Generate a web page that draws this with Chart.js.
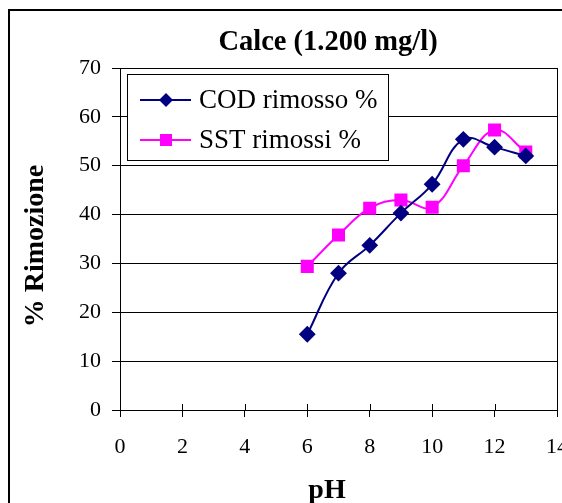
<!DOCTYPE html>
<html>
<head>
<meta charset="utf-8">
<script src="https://cdn.jsdelivr.net/npm/chart.js@4/dist/chart.umd.min.js"></script>
<style>
    html, body { margin: 0; padding: 0; background: #ffffff; overflow: hidden; }
    #wrap { width: 562px; height: 503px; position: relative; overflow: hidden; }
    #phChart { position: absolute; left: 0; top: 0; }
</style>
</head>
<body>
<div id="wrap"><canvas id="phChart" width="585" height="503"></canvas></div>
<script>
// pH values on the x axis
const phValues = [6, 7, 8, 9, 10, 11, 12, 13];
// series
const codRemoved = [15.5, 28.0, 33.7, 40.3, 46.2, 55.4, 53.8, 52.0];
const sstRemoved = [29.4, 35.8, 41.3, 43.0, 41.5, 50.0, 57.3, 52.8];
const seriesNames = ['COD rimosso %', 'SST rimossi %'];
const chartTitle = 'Calce (1.200 mg/l)';
const xTitle = 'pH';
const yTitle = '% Rimozione';
const xTicks = [0, 2, 4, 6, 8, 10, 12, 14];
const yTicks = [0, 10, 20, 30, 40, 50, 60, 70];

const serif = "'Liberation Serif', 'DejaVu Serif', serif";

function toPoints(ys) {
    return phValues.map((x, i) => ({ x: x, y: ys[i] }));
}

// frame, titles, legend box and the upper half of the x ticks
const decorPlugin = {
    id: 'decor',
    afterDraw(chart) {
        const ctx = chart.ctx;
        const area = chart.chartArea;
        const xs = chart.scales.x;
        ctx.save();

        // outer frame
        ctx.strokeStyle = '#000';
        ctx.lineWidth = 2;
        ctx.strokeRect(9, 10, 700, 700);

        // plot border
        ctx.lineWidth = 1;
        ctx.strokeRect(area.left + 0.5, area.top + 0.5, area.right - area.left, area.bottom - area.top);

        // x ticks above the axis
        xTicks.forEach(v => {
            const px = Math.round(xs.getPixelForValue(v)) + 0.5;
            ctx.beginPath();
            ctx.moveTo(px, area.bottom);
            ctx.lineTo(px, area.bottom - 6);
            ctx.stroke();
        });

        // titles
        ctx.fillStyle = '#000';
        ctx.textAlign = 'center';
        ctx.textBaseline = 'middle';
        ctx.font = 'bold 28.5px ' + serif;
        ctx.fillText(chartTitle, 328, 43);
        ctx.font = 'bold 28px ' + serif;
        ctx.fillText(xTitle, 327, 491);

        ctx.save();
        ctx.translate(36, 246);
        ctx.rotate(-Math.PI / 2);
        ctx.fillText(yTitle, 0, 0);
        ctx.restore();

        // legend
        const lx = 127, ly = 74, lw = 261, lh = 86;
        ctx.fillStyle = '#fff';
        ctx.fillRect(lx, ly, lw, lh);
        ctx.strokeStyle = '#000';
        ctx.lineWidth = 1;
        ctx.strokeRect(lx + 0.5, ly + 0.5, lw, lh);

        chart.data.datasets.forEach((ds, i) => {
            const cy = ly + 26 + i * 40;
            ctx.strokeStyle = ds.borderColor;
            ctx.lineWidth = 2;
            ctx.beginPath();
            ctx.moveTo(lx + 13, cy);
            ctx.lineTo(lx + 64, cy);
            ctx.stroke();
            ctx.fillStyle = ds.pointBackgroundColor;
            const mx = lx + 39;
            if (ds.pointStyle === 'rectRot') {
                ctx.beginPath();
                ctx.moveTo(mx, cy - 7);
                ctx.lineTo(mx + 7, cy);
                ctx.lineTo(mx, cy + 7);
                ctx.lineTo(mx - 7, cy);
                ctx.closePath();
                ctx.fill();
            } else {
                ctx.fillRect(mx - 6, cy - 6, 12, 12);
            }
            ctx.fillStyle = '#000';
            ctx.font = '27px ' + serif;
            ctx.textAlign = 'left';
            ctx.fillText(ds.label, lx + 72, cy + 1);
        });

        ctx.restore();
    }
};

const ctx = document.getElementById('phChart').getContext('2d');
const phChart = new Chart(ctx, {
    type: 'line',
    data: {
        datasets: [{
            label: seriesNames[0],
            data: toPoints(codRemoved),
            borderColor: '#000080',
            backgroundColor: '#000080',
            pointBackgroundColor: '#000080',
            pointBorderColor: '#000080',
            pointStyle: 'rectRot',
            pointRadius: 7,
            borderWidth: 2,
            tension: 0.4,
            fill: false
        }, {
            label: seriesNames[1],
            data: toPoints(sstRemoved),
            borderColor: '#ff00ff',
            backgroundColor: '#ff00ff',
            pointBackgroundColor: '#ff00ff',
            pointBorderColor: '#ff00ff',
            pointStyle: 'rect',
            pointRadius: 7.8,
            borderWidth: 2,
            tension: 0.4,
            fill: false
        }]
    },
    options: {
        responsive: false,
        animation: false,
        events: [],
        layout: {
            padding: { top: 68, right: 28, left: 0, bottom: 0 }
        },
        plugins: {
            legend: { display: false },
            title: { display: false },
            tooltip: { enabled: false }
        },
        scales: {
            x: {
                type: 'linear',
                min: 0,
                max: 14,
                afterBuildTicks: function(scale) {
                    scale.ticks = xTicks.map(v => ({ value: v }));
                },
                afterFit: function(scale) {
                    scale.height = 93;
                },
                grid: {
                    drawOnChartArea: false,
                    color: '#000',
                    tickLength: 7
                },
                border: { color: '#000', width: 1 },
                ticks: {
                    color: '#000',
                    padding: 17,
                    maxRotation: 0,
                    font: { family: serif, size: 22 }
                }
            },
            y: {
                min: 0,
                max: 70,
                afterBuildTicks: function(scale) {
                    scale.ticks = yTicks.map(v => ({ value: v }));
                },
                afterFit: function(scale) {
                    scale.width = 120;
                },
                grid: {
                    color: '#000',
                    tickLength: 8
                },
                border: { color: '#000', width: 1 },
                ticks: {
                    color: '#000',
                    padding: 11,
                    font: { family: serif, size: 22 }
                }
            }
        }
    },
    plugins: [decorPlugin]
});
window.phChart = phChart;
</script>
</body>
</html>
